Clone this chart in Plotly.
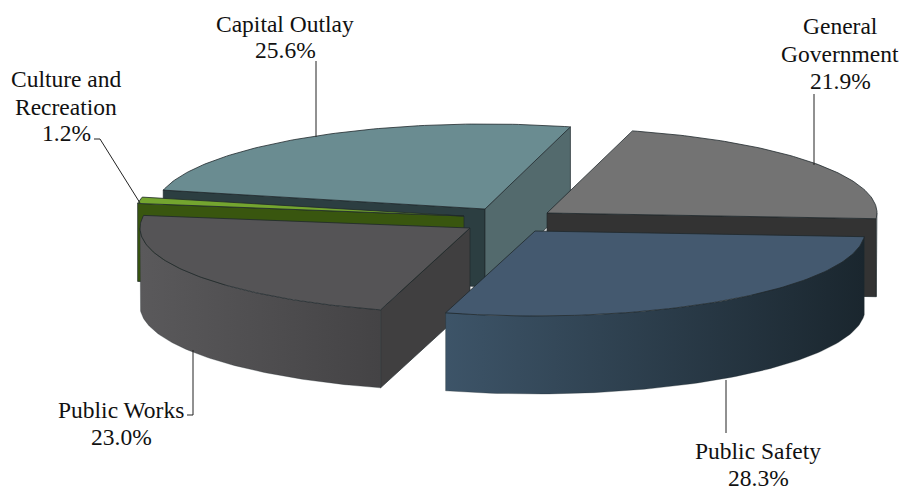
import math
import plotly.graph_objects as go

# ---- data ----
categories = ["General Government", "Public Safety", "Public Works",
              "Culture and Recreation", "Capital Outlay"]
shares = [21.9, 28.3, 23.0, 1.2, 25.6]

# ---- styling / layout ----
start_angle = 15.0
rx, ry, depth = 330.0, 85.0, 78.0
apex = {
    "General Government": (547, 213),
    "Public Safety": (535, 231),
    "Public Works": (470, 228),
    "Culture and Recreation": (464, 216),
    "Capital Outlay": (485, 209),
}
top_color = {
    "General Government": "#737373",
    "Public Safety": "#44596f",
    "Public Works": "#555456",
    "Culture and Recreation": "#74a52f",
    "Capital Outlay": "#6a8c91",
}
start_wall = {
    "General Government": "#333333",
    "Public Safety": "#2f4254",
    "Public Works": "#403f40",
    "Culture and Recreation": "#39560f",
    "Capital Outlay": "#2c3e41",
}
end_wall = {
    "General Government": "#333333",
    "Public Safety": "#2f4254",
    "Public Works": "#403f40",
    "Culture and Recreation": "#39560f",
    "Capital Outlay": "#536a6d",
}
outer_gradient = {
    "General Government": ("#333333", "#333333"),
    "Public Safety": ("#3d5468", "#1a262e"),
    "Public Works": ("#5a595b", "#444345"),
    "Culture and Recreation": ("#39560f", "#39560f"),
    "Capital Outlay": ("#536a6d", "#536a6d"),
}
draw_order = ["Capital Outlay", "General Government", "Culture and Recreation",
              "Public Works", "Public Safety"]
label_lines = {
    "General Government": ["General", "Government"],
    "Public Safety": ["Public Safety"],
    "Public Works": ["Public Works"],
    "Culture and Recreation": ["Culture and", "Recreation"],
    "Capital Outlay": ["Capital Outlay"],
}
label_center = {
    "General Government": 840,
    "Public Safety": 758,
    "Public Works": 121,
    "Culture and Recreation": 66,
    "Capital Outlay": 285,
}
label_baselines = {
    "General Government": [33, 61, 88],
    "Public Safety": [458, 485],
    "Public Works": [417, 444],
    "Culture and Recreation": [86, 114, 140],
    "Capital Outlay": [31, 57],
}
leaders = [
    [(316, 61), (316, 137)],
    [(814, 94), (814, 165)],
    [(94, 139), (100, 139), (140, 203)],
    [(187, 415), (193, 415), (193, 350)],
    [(726, 380), (726, 433)],
]
FONT = "Liberation Serif"
FONT_SIZE = 23.5
EDGE = "#20282c"

# ---- geometry derived from the values ----
angles = {}
a = start_angle
for c, v in zip(categories, shares):
    angles[c] = (a, a + v * 3.6)
    a += v * 3.6


def rim(c, deg):
    ax, ay = apex[c]
    t = math.radians(deg)
    return ax + rx * math.sin(t), ay - ry * math.cos(t)


def arc(c, a0, a1, n=90):
    return [rim(c, a0 + (a1 - a0) * i / n) for i in range(n + 1)]


fig = go.Figure()


def poly(pts, color, gradient=None, line_w=0.7):
    kw = dict(
        x=[p[0] for p in pts] + [pts[0][0]],
        y=[p[1] for p in pts] + [pts[0][1]],
        mode="lines", fill="toself",
        line=dict(color=EDGE, width=line_w),
        hoverinfo="skip", showlegend=False,
    )
    if gradient:
        kw["fillgradient"] = dict(type="horizontal",
                                  colorscale=[[0, gradient[0]], [1, gradient[1]]])
    else:
        kw["fillcolor"] = color
    fig.add_trace(go.Scatter(**kw))


def down(pts):
    return [(x, y + depth) for x, y in pts]


for c in draw_order:
    a0, a1 = angles[c]
    A = apex[c]
    # radial walls facing the viewer
    if math.cos(math.radians(a0 - 90)) < 0:
        e = rim(c, a0)
        poly([A, e] + down([e]) + down([A]), start_wall[c])
    if math.cos(math.radians(a1 + 90)) < 0:
        e = rim(c, a1)
        poly([A, e] + down([e]) + down([A]), end_wall[c])
    # outer wall: only the part of the rim on the near side
    lo, hi = max(a0, 90), min(a1, 270)
    if hi > lo:
        r = arc(c, lo, hi)
        poly(r + down(r)[::-1], None, gradient=outer_gradient[c], line_w=0.3)
    # top face
    poly([A] + arc(c, a0, a1), top_color[c], line_w=0.8)

for pts in leaders:
    fig.add_trace(go.Scatter(x=[p[0] for p in pts], y=[p[1] for p in pts],
                             mode="lines", line=dict(color="#222222", width=1),
                             hoverinfo="skip", showlegend=False))

annotations = []
for c, v in zip(categories, shares):
    lines = label_lines[c] + [f"{v:.1f}%"]
    for text, base in zip(lines, label_baselines[c]):
        annotations.append(dict(
            x=label_center[c], y=base - 0.30 * FONT_SIZE, text=text,
            showarrow=False, xanchor="center", yanchor="middle",
            font=dict(family=FONT, size=FONT_SIZE, color="#111111"),
        ))

fig.update_layout(
    width=902, height=487,
    margin=dict(l=0, r=0, t=0, b=0),
    paper_bgcolor="white", plot_bgcolor="white",
    xaxis=dict(range=[0, 902], visible=False, fixedrange=True),
    yaxis=dict(range=[487, 0], visible=False, fixedrange=True),
    annotations=annotations,
    showlegend=False,
)
fig.write_html(
    "out.html",
    config={"displayModeBar": False},
    post_script="document.body.style.margin='0';document.body.style.overflow='hidden';",
)
